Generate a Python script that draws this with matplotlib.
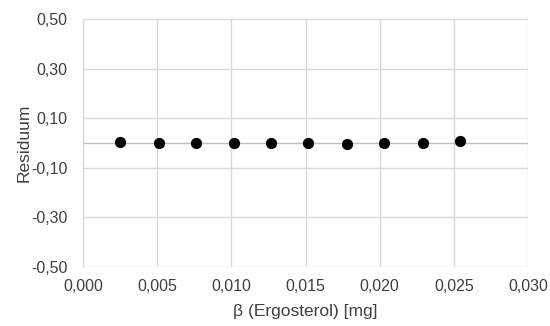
import numpy as np
import matplotlib
matplotlib.use('Agg')
import matplotlib.pyplot as plt
from matplotlib.ticker import FuncFormatter, MultipleLocator

# Daten
beta = [0.0025, 0.0051, 0.0076, 0.0102, 0.0127, 0.0152, 0.0178, 0.0203, 0.0229, 0.0254]
residuum = [0.003, 0.000, 0.000, 0.000, 0.000, 0.000, -0.004, 0.000, 0.000, 0.007]

plt.rcParams['font.family'] = ['Liberation Sans', 'DejaVu Sans']
textfarbe = '#404040'
gitter = '#d9d9d9'

fig = plt.figure(figsize=(5.5, 3.26), dpi=100)
ax = fig.add_axes([0.151, 0.181, 0.809, 0.761])

ax.scatter(beta, residuum, s=50, color='black', zorder=3)

ax.set_xlim(0, 0.030)
ax.set_ylim(-0.50, 0.50)
ax.xaxis.set_major_locator(MultipleLocator(0.005))
ax.set_yticks(np.arange(-0.5, 0.51, 0.2))

ax.xaxis.set_major_formatter(FuncFormatter(lambda v, p: f'{v:.3f}'.replace('.', ',')))
ax.yaxis.set_major_formatter(FuncFormatter(lambda v, p: f'{v:.2f}'.replace('.', ',').replace('-0,00', '0,00')))

ax.grid(True, color=gitter, linewidth=1)
ax.set_axisbelow(True)
ax.axhline(0, color='#bfbfbf', linewidth=1, zorder=2)
for s in ['top', 'right', 'bottom']:
    ax.spines[s].set_visible(False)
ax.spines['left'].set_color(gitter)
ax.tick_params(axis='y', length=0, labelsize=11.5, labelcolor=textfarbe, pad=11)
ax.tick_params(axis='x', length=0, labelsize=11.5, labelcolor=textfarbe, pad=9)

ax.set_xlabel('β (Ergosterol) [mg]', fontsize=12.5, color=textfarbe, labelpad=7)
ax.set_ylabel('Residuum', fontsize=12.5, color=textfarbe, labelpad=0)

fig.savefig('out.png', dpi=100, facecolor='white')
